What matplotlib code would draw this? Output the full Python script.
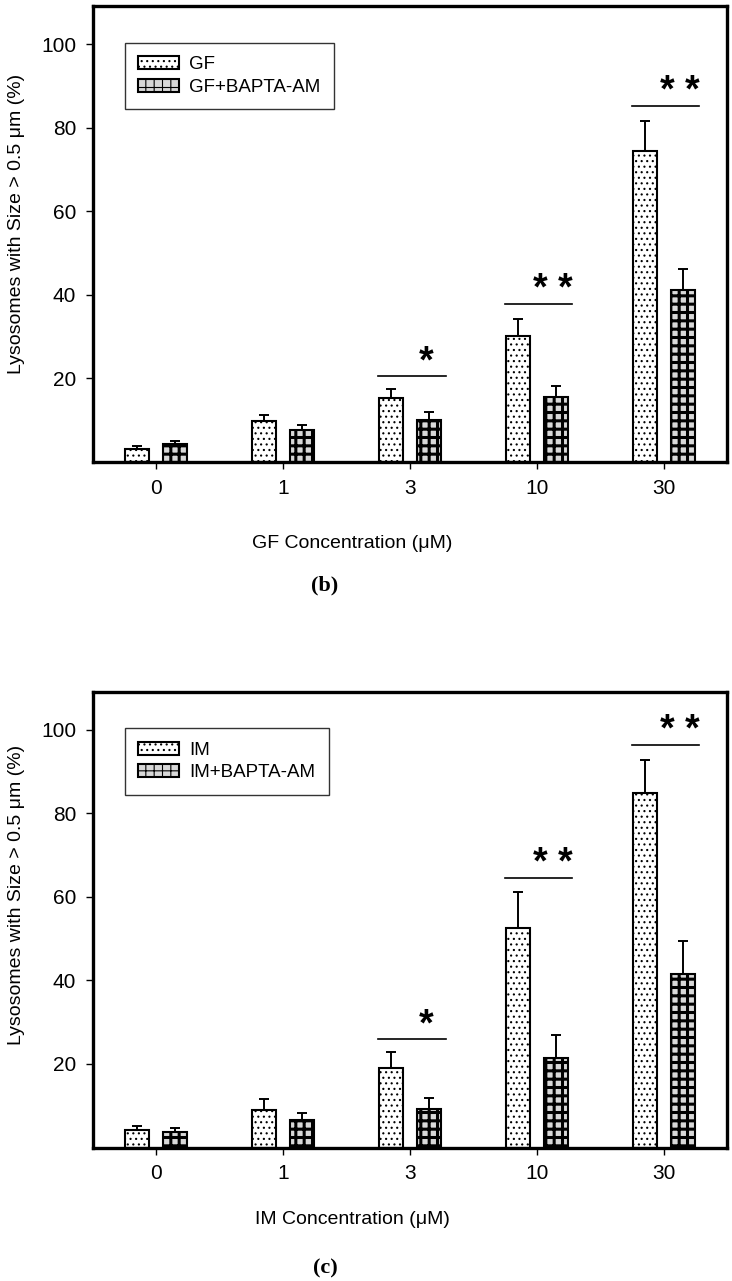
import numpy as np
import matplotlib
matplotlib.use("Agg")
import matplotlib.pyplot as plt

plt.rcParams['font.family'] = ['Liberation Sans', 'DejaVu Sans']
plt.rcParams['hatch.linewidth'] = 0.8

# concentrations (uM)
conc_labels = ['0', '1', '3', '10', '30']

# panel (b): GF
gf_mean = [3.0, 9.7, 15.2, 30.1, 74.5]
gf_err = [0.8, 1.5, 2.2, 4.2, 7.2]
gf_bapta_mean = [4.3, 7.6, 10.0, 15.6, 41.1]
gf_bapta_err = [0.8, 1.2, 1.9, 2.6, 5.2]
gf_sig_idx = [2, 3, 4]
gf_sig_text = ['*', '* *', '* *']
gf_sig_level = [20.6, 37.9, 85.3]

# panel (c): IM
im_mean = [4.1, 9.0, 19.0, 52.6, 84.8]
im_err = [1.0, 2.5, 3.9, 8.5, 8.0]
im_bapta_mean = [3.8, 6.5, 9.2, 21.4, 41.5]
im_bapta_err = [0.9, 1.7, 2.7, 5.5, 7.8]
im_sig_idx = [2, 3, 4]
im_sig_text = ['*', '* *', '* *']
im_sig_level = [25.9, 64.6, 96.4]

W, H = 732, 1281
fig = plt.figure(figsize=(W / 100, H / 100), dpi=100)


def panel(rect, drug, m1, e1, m2, e2, sig_idx, sig_text, sig_level, xlab_y, tag, tag_y, ylab_y):
    ax = fig.add_axes(rect)
    x = np.arange(len(conc_labels))
    off, w = 0.15, 0.19
    ax.bar(x - off, m1, w, color='white', edgecolor='black', linewidth=1.5,
           hatch='...', label=drug, zorder=2)
    with plt.rc_context({'hatch.linewidth': 2.2}):
        b2 = ax.bar(x + off, m2, w, color='#d8d8d8', edgecolor='black', linewidth=1.5,
                    hatch='++', label=drug + '+BAPTA-AM', zorder=2)
    for p in b2:
        if hasattr(p, 'set_hatch_linewidth'):
            p.set_hatch_linewidth(2.2)
    ax.errorbar(x - off, m1, yerr=[np.zeros(len(e1)), e1], fmt='none', ecolor='black',
                elinewidth=1.4, capsize=3.6, capthick=1.4, zorder=3)
    ax.errorbar(x + off, m2, yerr=[np.zeros(len(e2)), e2], fmt='none', ecolor='black',
                elinewidth=1.4, capsize=3.6, capthick=1.4, zorder=3)

    # significance bars
    for i, t, lvl in zip(sig_idx, sig_text, sig_level):
        ax.plot([i - 0.25, i + 0.28], [lvl, lvl], color='black', lw=1.2)
        ax.text(i + 0.13, lvl + 0.8, t, ha='center', va='baseline', fontsize=27,
                fontweight='bold')

    ax.set_xlim(-0.5, 4.5)
    ax.set_ylim(0, 109)
    ax.set_xticks(x)
    ax.set_xticklabels(conc_labels)
    ax.set_yticks([20, 40, 60, 80, 100])
    ax.tick_params(axis='both', direction='out', length=5, width=1, labelsize=15, pad=7)
    for s in ax.spines.values():
        s.set_linewidth(2.4)

    leg = ax.legend(loc='upper left', bbox_to_anchor=(0.05, 0.92), borderaxespad=0,
                    fontsize=13.5, fancybox=False, edgecolor='#333333', framealpha=1,
                    handlelength=2.2, handleheight=0.7, handletextpad=0.55,
                    borderpad=0.7, labelspacing=0.3)
    leg.get_frame().set_linewidth(1.0)

    fig.text(352 / W, 1 - xlab_y / H, drug + ' Concentration (\u03bcM)', ha='center',
             va='center', fontsize=14)
    fig.text(325 / W, 1 - tag_y / H, tag, ha='center', va='center', fontsize=16,
             family=['Liberation Serif', 'DejaVu Serif'], fontweight='bold')
    fig.text(17 / W, 1 - ylab_y / H, 'Lysosomes with Size > 0.5 \u03bcm (%)', ha='center',
             va='center', rotation=90, fontsize=14)
    return ax


panel([93 / W, 1 - 462 / H, 634 / W, 455.5 / H], 'GF', gf_mean, gf_err,
      gf_bapta_mean, gf_bapta_err, gf_sig_idx, gf_sig_text, gf_sig_level,
      543, '(b)', 585, 224)
panel([93 / W, 1 - 1147.5 / H, 634 / W, 455.5 / H], 'IM', im_mean, im_err,
      im_bapta_mean, im_bapta_err, im_sig_idx, im_sig_text, im_sig_level,
      1220, '(c)', 1268, 895)

fig.savefig('out.png', dpi=100)
